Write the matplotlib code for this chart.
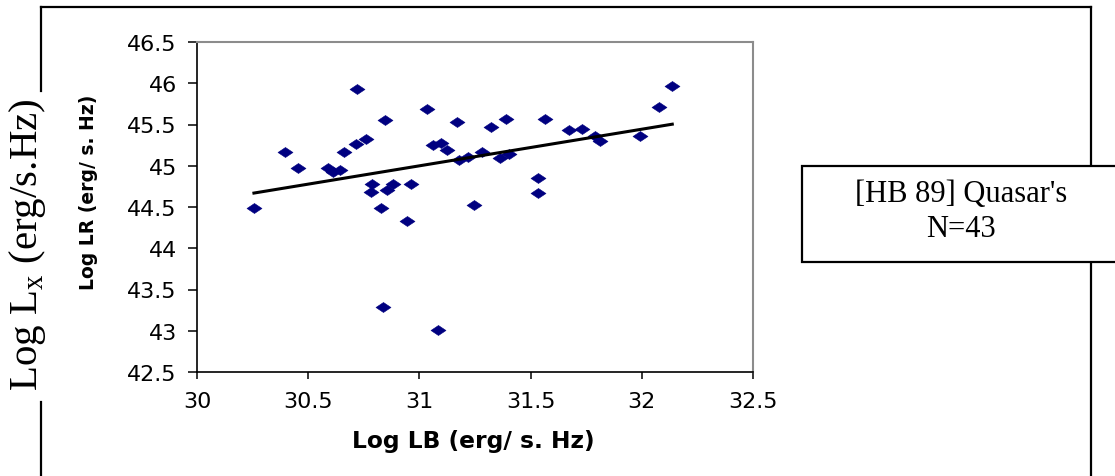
import numpy as np
import matplotlib
matplotlib.use('Agg')
import matplotlib.pyplot as plt
from matplotlib.path import Path
from matplotlib.patches import Rectangle
from matplotlib.lines import Line2D

plt.rcParams['mathtext.fontset'] = 'custom'
plt.rcParams['mathtext.rm'] = 'Liberation Serif'

# Log LB and Log LR for the 43 quasars
log_lb = [30.256, 30.396, 30.453, 30.59, 30.613, 30.643, 30.66, 30.715, 30.718, 30.758,
          30.784, 30.787, 30.827, 30.836, 30.847, 30.853, 30.88, 30.946, 30.964, 31.033,
          31.061, 31.082, 31.096, 31.123, 31.17, 31.18, 31.22, 31.247, 31.28, 31.32,
          31.362, 31.403, 31.388, 31.535, 31.535, 31.565, 31.673, 31.733, 31.79, 31.81,
          31.99, 32.077, 32.137]
log_lr = [44.49, 45.17, 44.97, 44.97, 44.93, 44.95, 45.17, 45.26, 45.93, 45.33,
          44.68, 44.78, 44.49, 43.29, 45.55, 44.71, 44.78, 44.33, 44.78, 45.69,
          45.25, 43.01, 45.27, 45.19, 45.53, 45.07, 45.11, 44.53, 45.17, 45.47,
          45.10, 45.14, 45.57, 44.85, 44.67, 45.57, 45.43, 45.45, 45.36, 45.30,
          45.36, 45.71, 45.97]

x_ticks = [30, 30.5, 31, 31.5, 32, 32.5]
y_ticks = [42.5, 43, 43.5, 44, 44.5, 45, 45.5, 46, 46.5]
tick_labels_x = ['30', '30.5', '31', '31.5', '32', '32.5']
tick_labels_y = ['42.5', '43', '43.5', '44', '44.5', '45', '45.5', '46', '46.5']

W, H = 1115, 477
fig = plt.figure(figsize=(W / 100, H / 100), dpi=100)

def fx(px):
    return px / W

def fy(py):
    return 1 - py / H

ax = fig.add_axes([fx(197), fy(373), fx(753) - fx(197), fy(43) - fy(373)])

# flat diamond like the excel marker
diamond = Path([(0, 1), (1.5, 0), (0, -1), (-1.5, 0), (0, 1)],
               [Path.MOVETO, Path.LINETO, Path.LINETO, Path.LINETO, Path.CLOSEPOLY])
ax.plot(log_lb, log_lr, linestyle='none', marker=diamond, markersize=10.8,
        color='#000080', markeredgewidth=0.4, zorder=3)

# linear trendline
k, b = np.polyfit(log_lb, log_lr, 1)
xs = np.array([min(log_lb), max(log_lb)])
ax.plot(xs, k * xs + b, color='black', linewidth=2.2, zorder=4)

ax.set_xlim(30, 32.5)
ax.set_ylim(42.5, 46.5)
ax.set_xticks(x_ticks)
ax.set_xticklabels(tick_labels_x)
ax.set_yticks(y_ticks)
ax.set_yticklabels(tick_labels_y)

for s in ['left', 'bottom']:
    ax.spines[s].set_color('black')
    ax.spines[s].set_linewidth(1.2)
for s in ['top', 'right']:
    ax.spines[s].set_color('#8c8c8c')
    ax.spines[s].set_linewidth(1.5)

ax.tick_params(axis='y', direction='out', length=6.5, width=1.1, pad=8,
               labelsize=16, labelfontfamily='DejaVu Sans')
ax.tick_params(axis='x', direction='out', length=5, width=1.1, pad=9,
               labelsize=16, labelfontfamily='DejaVu Sans')

# axis titles
fig.text(fx(473), fy(448), 'Log LB (erg/ s. Hz)', ha='center', va='baseline',
         fontsize=16.8, fontweight='bold', family='DejaVu Sans')
fig.text(fx(88), fy(192), 'Log LR (erg/ s. Hz)', ha='center', va='center',
         rotation=90, fontsize=13.5, fontweight='bold', family='DejaVu Sans')
fig.text(fx(28), fy(245), r'Log L$_\mathregular{x}$ (erg/s.Hz)', ha='center', va='center',
         rotation=90, fontsize=29.5, family='Liberation Serif')

# outer frame with gap for the big label
frame_kw = dict(color='black', linewidth=1.6, transform=fig.transFigure)
fig.add_artist(Line2D([fx(41), fx(41)], [fy(8), fy(92)], **frame_kw))
fig.add_artist(Line2D([fx(41), fx(41)], [fy(403), fy(477)], **frame_kw))
fig.add_artist(Line2D([fx(41), fx(1091)], [fy(8), fy(8)], **frame_kw))
fig.add_artist(Line2D([fx(1091), fx(1091)], [fy(8), fy(477)], **frame_kw))

# sample box
fig.add_artist(Rectangle((fx(802), fy(263)), fx(320), fy(167) - fy(263),
                         transform=fig.transFigure, facecolor='white',
                         edgecolor='black', linewidth=1.6, zorder=5))
fig.text(fx(961), fy(202), "[HB 89] Quasar's", ha='center', va='baseline',
         fontsize=22, family='Liberation Serif', zorder=6)
fig.text(fx(961), fy(237), 'N=43', ha='center', va='baseline',
         fontsize=22, family='Liberation Serif', zorder=6)

fig.savefig('out.png', dpi=100)
